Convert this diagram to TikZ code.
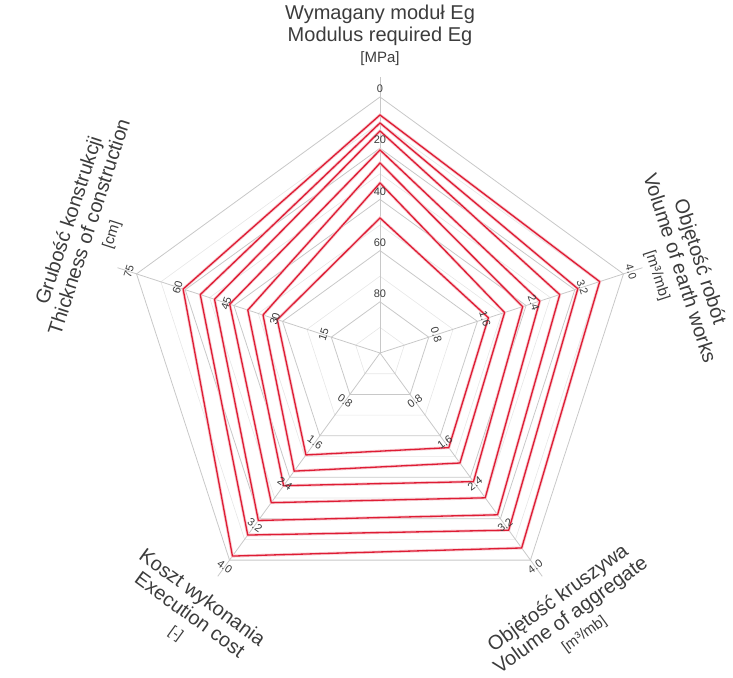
\documentclass[tikz,border=0pt]{standalone}
\usepackage{fontspec}
\setmainfont{Liberation Sans}
\usetikzlibrary{positioning,calc}
\definecolor{ringgray}{RGB}{200,200,200}
\definecolor{minorgray}{RGB}{230,230,230}
\definecolor{seriesred}{RGB}{222,28,52}
\definecolor{labelgray}{RGB}{60,60,60}
\newcommand{\unitfont}{\fontsize{15}{16}\selectfont}
\tikzset{
ring/.style = {draw=ringgray, line width=0.8pt},
minorring/.style = {draw=minorgray, line width=0.6pt},
spoke/.style = {draw=ringgray, line width=0.8pt},
series/.style = {draw=seriesred, line width=1.3pt, line join=miter, preaction={draw=seriesred!22, line width=3pt}},
ticklabel/.style = {font=\fontsize{11}{12}\selectfont, text=labelgray, inner sep=0pt},
axtitle/.style = {font=\fontsize{20}{21.5}\selectfont, text=labelgray, align=center, inner sep=0pt}
}

\begin{document}
\begin{tikzpicture}[x=1pt, y=1pt]
		\useasboundingbox (-380,-324) rectangle (353,353);
		\coordinate (c) at (0,0);
		\coordinate (eg) at (90:276);
		\coordinate (earth) at (18:276);
		\coordinate (aggr) at (-54:276);
		\coordinate (cost) at (-126:276);
		\coordinate (thick) at (162:276);

		\foreach \r in {25.6,76.8,128,179.2,230.4}
			\draw [minorring] (90:\r) -- (18:\r) -- (-54:\r) -- (-126:\r) -- (162:\r) -- cycle;
		\foreach \r in {51.2,102.4,153.6,204.8,256}
			\draw [ring] (90:\r) -- (18:\r) -- (-54:\r) -- (-126:\r) -- (162:\r) -- cycle;
		\foreach \p in {eg,earth,aggr,cost,thick}
			\draw [spoke] (c) -- (\p);

		\draw [series] (90:238) -- (18:231) -- (-54:241) -- (-126:251) -- (162:207) -- cycle;
		\draw [series] (90:230) -- (18:208) -- (-54:219) -- (-126:225) -- (162:189) -- cycle;
		\draw [series] (90:222) -- (18:189) -- (-54:200) -- (-126:207) -- (162:174) -- cycle;
		\draw [series] (90:203) -- (18:168) -- (-54:179) -- (-126:185) -- (162:158) -- cycle;
		\draw [series] (90:190) -- (18:150) -- (-54:159) -- (-126:164) -- (162:139) -- cycle;
		\draw [series] (90:170) -- (18:131) -- (-54:136) -- (-126:146) -- (162:123) -- cycle;
		\draw [series] (90:135) -- (18:114) -- (-54:117) -- (-126:126) -- (162:108) -- cycle;

		\foreach \k/\t in {1/80,2/60,3/40,4/20,5/0}
			\node [ticklabel] (eg-\k) at (90:{51.2*\k+8}) {\t};
		\foreach \k/\t in {1/0.8,2/1.6,3/2.4,4/3.2,5/4.0} {
			\node [ticklabel, rotate=-72] (earth-\k) at (18:{51.2*\k+8}) {\t};
			\node [ticklabel, rotate=36] (aggr-\k) at (-54:{51.2*\k+8}) {\t};
			\node [ticklabel, rotate=-36] (cost-\k) at (-126:{51.2*\k+8}) {\t};
		}
		\foreach \k/\t in {1/15,2/30,3/45,4/60,5/75}
			\node [ticklabel, rotate=72] (thick-\k) at (162:{51.2*\k+8}) {\t};

		\node [axtitle, anchor=south] (egtitle) at (90:287) {Wymagany moduł Eg\\Modulus required Eg\\{\unitfont [MPa]}};
		\node [axtitle, anchor=south, rotate=-72] (earthtitle) at ($(18:280)+(-72:12)$) {Objętość robót\\Volume of earth works\\{\unitfont [m³/mb]}};
		\node [axtitle, anchor=north, rotate=36] (aggrtitle) at (-54:294) {Objętość kruszywa\\Volume of aggregate\\{\unitfont [m³/mb]}};
		\node [axtitle, anchor=north, rotate=-36] (costtitle) at (-126:294) {Koszt wykonania\\Execution cost\\{\unitfont [-]}};
		\node [axtitle, anchor=south, rotate=72] (thicktitle) at ($(162:284)+(72:30)$) {Grubość konstrukcji\\Thickness of construction\\{\unitfont [cm]}};
\end{tikzpicture}
\end{document}
